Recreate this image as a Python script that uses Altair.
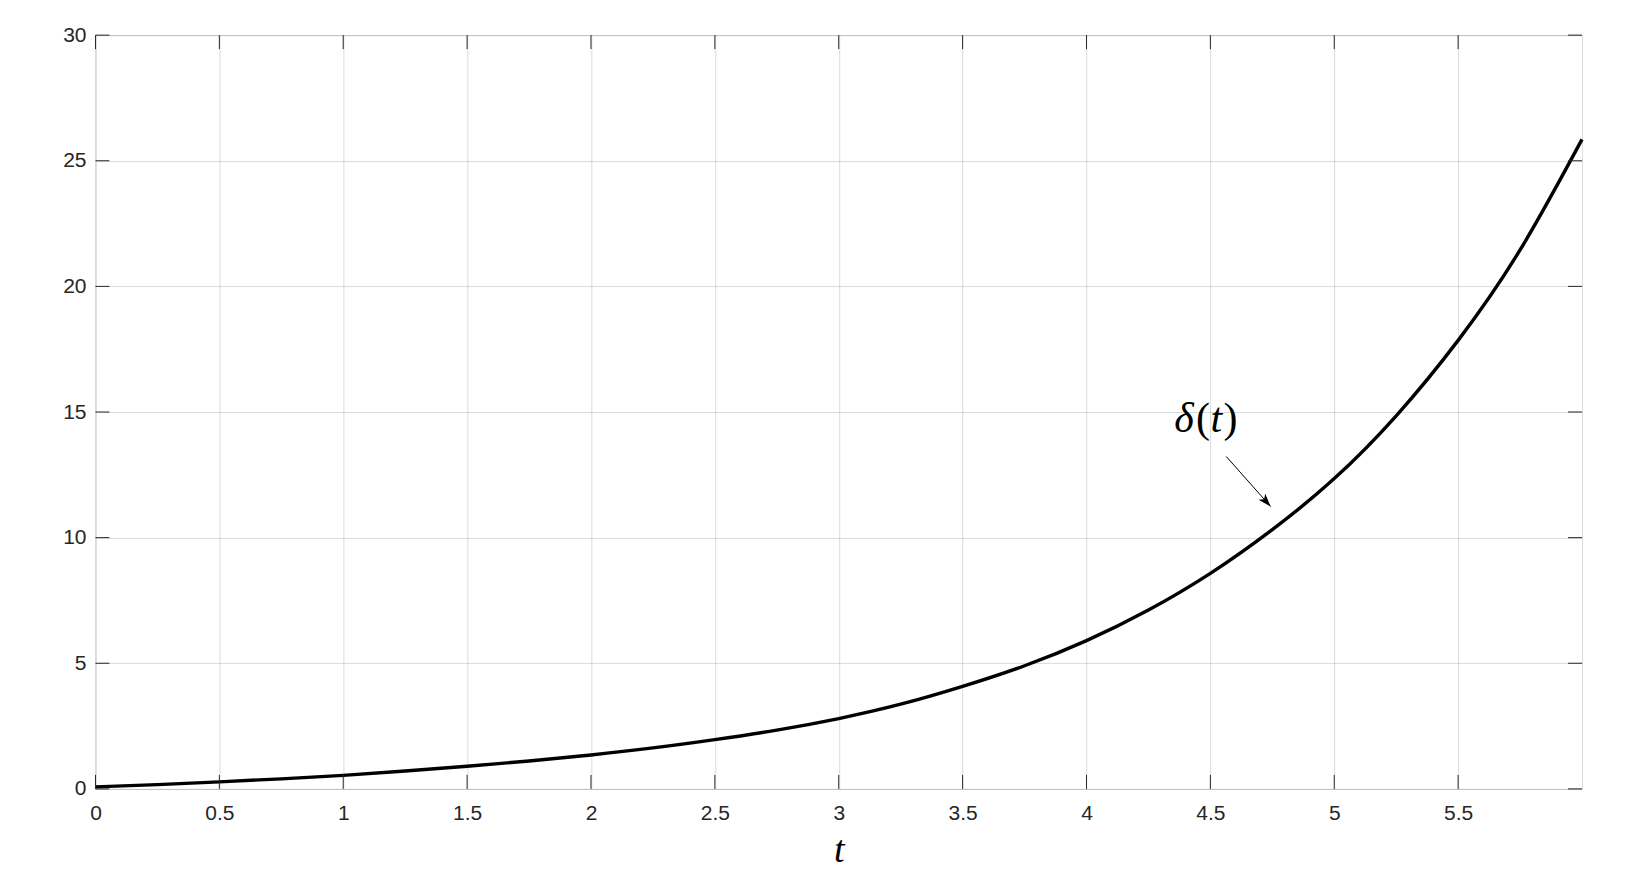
import altair as alt
import pandas as pd

# ---- data ----
t_values = [0.0, 0.25, 0.5, 0.75, 1.0, 1.25, 1.5, 1.75, 2.0, 2.25, 2.5, 2.75,
            3.0, 3.25, 3.5, 3.75, 4.0, 4.25, 4.5, 4.75, 5.0, 5.25, 5.5, 5.75, 6.0]
delta_values = [0.08, 0.17, 0.28, 0.40, 0.54, 0.71, 0.90, 1.11, 1.35, 1.63, 1.96, 2.34,
                2.80, 3.37, 4.08, 4.90, 5.90, 7.12, 8.58, 10.32, 12.35, 14.85, 17.85, 21.45, 25.85]
x_ticks = [0, 0.5, 1, 1.5, 2, 2.5, 3, 3.5, 4, 4.5, 5, 5.5]
y_ticks = [0, 5, 10, 15, 20, 25, 30]
x_domain = [0, 6]
y_domain = [0, 30]
x_title = "t"

# annotation
label_anchor_t = [4.470]
label_anchor_y = [14.2]
arrow_start = [4.564, 13.23]
arrow_tip = [4.743, 11.24]

W, H = 1487, 754
TICK = 14
AX = "#262626"

curve = pd.DataFrame({"t": t_values, "delta": delta_values})
xt = pd.DataFrame({"t": x_ticks})
yt = pd.DataFrame({"delta": y_ticks})
lab = pd.DataFrame({"t": label_anchor_t, "delta": label_anchor_y})
arrow = pd.DataFrame({"t": [arrow_start[0]], "delta": [arrow_start[1]],
                      "t2": [arrow_tip[0]], "delta2": [arrow_tip[1]]})
tip = pd.DataFrame({"t": [arrow_tip[0]], "delta": [arrow_tip[1]]})

xs = alt.Scale(domain=x_domain, nice=False, zero=False)
ys = alt.Scale(domain=y_domain, nice=False, zero=False)

x_axis = alt.Axis(values=x_ticks, grid=True, gridColor="#000000", gridOpacity=0.15,
                  gridWidth=1, ticks=False, domain=False,
                  labelFont="Liberation Sans", labelFontSize=21, labelColor=AX,
                  labelPadding=14, labelFlush=False, labelOverlap=False,
                  labelExpr="'' + datum.value",
                  title=x_title, titleFont="Liberation Serif", titleFontStyle="italic",
                  titleFontSize=38, titleFontWeight="normal", titleColor="#000000",
                  titleY=73, titleBaseline="alphabetic")
y_axis = alt.Axis(values=y_ticks, grid=True, gridColor="#000000", gridOpacity=0.15,
                  gridWidth=1, ticks=False, domain=False,
                  labelFont="Liberation Sans", labelFontSize=21, labelColor=AX,
                  labelPadding=9.5, labelFlush=False, labelOverlap=False,
                  labelExpr="'' + datum.value", title=None)

line = alt.Chart(curve).mark_line(color="black", strokeWidth=3.4, interpolate="natural").encode(
    x=alt.X("t:Q", scale=xs, axis=x_axis),
    y=alt.Y("delta:Q", scale=ys, axis=y_axis),
)

tick_bottom = alt.Chart(xt).mark_rule(color=AX, strokeWidth=1).encode(
    x=alt.X("t:Q", scale=xs), y=alt.value(H), y2=alt.value(H - TICK))
tick_top = alt.Chart(xt).mark_rule(color=AX, strokeWidth=1).encode(
    x=alt.X("t:Q", scale=xs), y=alt.value(0), y2=alt.value(TICK))
tick_left = alt.Chart(yt).mark_rule(color=AX, strokeWidth=1).encode(
    y=alt.Y("delta:Q", scale=ys), x=alt.value(0), x2=alt.value(TICK))
tick_right = alt.Chart(yt).mark_rule(color=AX, strokeWidth=1).encode(
    y=alt.Y("delta:Q", scale=ys), x=alt.value(W), x2=alt.value(W - TICK))

arrow_line = alt.Chart(arrow).mark_rule(color="black", strokeWidth=1).encode(
    x=alt.X("t:Q", scale=xs), y=alt.Y("delta:Q", scale=ys),
    x2="t2:Q", y2="delta2:Q")
head_path = "M0,0 L0.7,2 L0,1.5 L-0.7,2 Z"
arrow_head = alt.Chart(tip).mark_point(shape=head_path, filled=True, size=169, angle=138,
                                       color="black", opacity=1, strokeWidth=0).encode(
    x=alt.X("t:Q", scale=xs), y=alt.Y("delta:Q", scale=ys))

def glyph(txt, dx, style):
    return alt.Chart(lab).mark_text(text=txt, dx=dx, align="center", baseline="alphabetic",
                                    font="Liberation Serif", fontSize=42, fontStyle=style,
                                    color="black").encode(
        x=alt.X("t:Q", scale=xs), y=alt.Y("delta:Q", scale=ys))

label = (glyph("δ", -19, "italic") + glyph("(", 0, "normal")
         + glyph("t", 13.5, "italic") + glyph(")", 27.5, "normal"))

chart = alt.layer(line, tick_bottom, tick_top, tick_left, tick_right,
                  arrow_line, arrow_head, label).properties(
    width=W, height=H,
    autosize=alt.AutoSizeParams(type="none"),
    padding={"left": 87.5, "top": 27, "right": 42, "bottom": 86},
).configure_view(stroke=AX, strokeWidth=1).configure(background="white")

chart.save("out.html", embed_options={"renderer": "svg", "actions": False})
